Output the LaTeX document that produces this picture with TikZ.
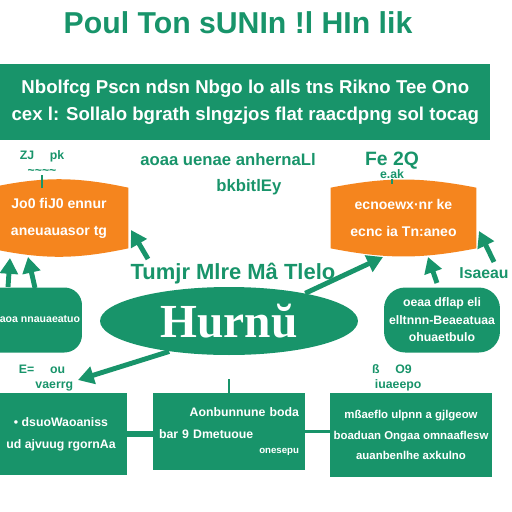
\documentclass[tikz,border=0pt]{standalone}
\usepackage{fontspec}
\setmainfont{Liberation Sans}
\setsansfont{Liberation Sans}
\usetikzlibrary{arrows.meta,shapes.geometric,backgrounds}
\definecolor{hgreen}{RGB}{24,148,106}
\definecolor{horange}{RGB}{245,133,30}

\begin{document}
\begin{tikzpicture}[x=0.02cm,y=-0.02cm,
    gbox/.style={fill=hgreen,text=white,inner sep=0pt,align=center,font=\bfseries\fontsize{7}{12.5}\selectfont},
    obox/.style={inner sep=0pt,text=white,align=center,font=\bfseries\fontsize{8}{15.3}\selectfont},
    glabel/.style={text=hgreen,inner sep=0pt,align=center,font=\bfseries\fontsize{7}{7.5}\selectfont},
    garrow/.style={hgreen,line width=2.8pt,-{Triangle[length=9pt,width=10pt]}}]
      \useasboundingbox (0,0) rectangle (512,512);

      \node[text=hgreen,font=\bfseries\fontsize{17.2}{18}\selectfont] (title) at (238,23) {Poul Ton sUNIn !l HIn lik};
      \node[gbox,anchor=north west,minimum width=9.8cm,minimum height=1.52cm,font=\bfseries\fontsize{10.6}{15.3}\selectfont] (banner) at (0,64)
        {Nbolfcg Pscn ndsn Nbgo lo alls tns Rikno Tee Ono\\cex l: Sollalo bgrath slngzjos flat raacdpng sol tocag};

      % orange boxes
      \node[obox,minimum width=2.76cm,minimum height=1.2cm] (lo) at (59,218) {Jo0 fiJ0 ennur\\aneuauasor tg};
      \node[obox,minimum width=2.9cm,minimum height=1.2cm] (ro) at (403.5,218) {ecnoewx·nr ke\\ecnc ia Tn:aneo};
      \begin{scope}[on background layer]
        \fill[horange] (lo.north west) to[bend left=12] (lo.north east) -- (lo.south east) to[bend left=12] (lo.south west) -- cycle;
        \fill[horange] (ro.north west) to[bend left=11] (ro.north east) -- (ro.south east) to[bend left=11] (ro.south west) -- cycle;
      \end{scope}
      \node[glabel] (lotag) at (42,163) {ZJ \quad pk\\[1pt]\textasciitilde\textasciitilde\textasciitilde\textasciitilde};
      \node[glabel] (rotag) at (392,165) {\fontsize{11}{11}\selectfont Fe 2Q\\e.ak};
      \node[glabel,font=\bfseries\fontsize{9.5}{9.5}\selectfont] (midtag) at (228,174) {aoaa uenae anhernaLl\\[5pt]\hspace*{2.5em}bkbitlEy};
      \draw[hgreen,line width=0.8pt] (lotag.south) -- (lotag.south |- lo.north);
      \draw[hgreen,line width=0.8pt] (rotag.south) -- ++(0,5);

      % hub
      \node[ellipse,fill=hgreen,inner sep=0pt,minimum width=5.16cm,minimum height=1.36cm,text=white,
        font=\fontspec{Liberation Serif}\bfseries\fontsize{27}{27}\selectfont] (hub) at (229,321) {Hurnŭ};
      \node[glabel,font=\bfseries\fontsize{12.5}{12.5}\selectfont] (hubtag) at (233,274) {Tumjr Mlre Mâ Tlelo};

      \node[gbox,rounded corners=10pt,minimum width=2.04cm,minimum height=1.3cm] (lg) at (31,320) {};
      \node[text=white,inner sep=0pt,font=\bfseries\fontsize{6}{7}\selectfont] (lgtext) at (40,319) {aoa nnauaeatuo};
      \node[gbox,rounded corners=12pt,minimum width=2.32cm,minimum height=1.3cm,font=\bfseries\fontsize{7}{10}\selectfont] (rg) at (442,320)
        {oeaa dflap eli\\elltnnn-Beaeatuaa\\ohuaetbulo};
      \node[glabel,font=\bfseries\fontsize{9}{9}\selectfont] (rgtag) at (484,273) {Isaeau};

      % arrows
      \coordinate (a1) at (148,259);
      \coordinate (a1e) at (131,230);
      \coordinate (a6) at (494,262);
      \coordinate (a6e) at (479,231);
      \coordinate (a5) at (437,283);
      \coordinate (a2) at (8,287);
      \coordinate (a3) at (35,288);
      \draw[garrow] (a1) -- (a1e);
      \draw[garrow] (a2) -- (10,258);
      \draw[garrow] (a3) -- (28,257);
      \draw[garrow] (hub.20) -- (383,257);
      \draw[garrow] (a5) -- (428,257);
      \draw[garrow] (a6) -- (a6e);
      \draw[garrow] (hub.207) -- (78,380);

      % bottom row
      \node[gbox,minimum width=2.64cm,minimum height=1.64cm] (lb) at (61,434) {• dsuoWaoaniss\\ud ajvuug rgornAa};
      \node[gbox,minimum width=3.04cm,minimum height=1.54cm,text width=2.8cm,align=left,font=\bfseries\fontsize{7}{12.5}\selectfont] (mb) at (229,431.5)
        {\hfill Aonbunnune boda\\bar 9 Dmetuoue\\[-4pt]\hfill{\fontsize{5.5}{6}\selectfont onesepu}};
      \node[gbox,minimum width=3.24cm,minimum height=1.68cm,font=\bfseries\fontsize{6.5}{11.5}\selectfont] (rb) at (411,435)
        {mßaeflo ulpnn a gjlgeow\\boaduan Ongaa omnaaflesw\\auanbenlhe axkulno};
      \draw[hgreen,line width=3pt] (lb.east) -- (lb.east -| mb.west);
      \draw[hgreen,line width=1.4pt] (mb.east) -- (mb.east -| rb.west);
      \coordinate (mtop) at (229,379);
      \draw[hgreen,line width=1pt] (mtop) -- (mb.north);
      \node[glabel] (lbtag) at (42,378) {E= \quad ou\\[1pt]\hspace*{2em}vaerrg};
      \node[glabel] (rbtag) at (392,378) {ß \quad O9\\[1pt]\hspace*{1em}iuaeepo};
\end{tikzpicture}
\end{document}
